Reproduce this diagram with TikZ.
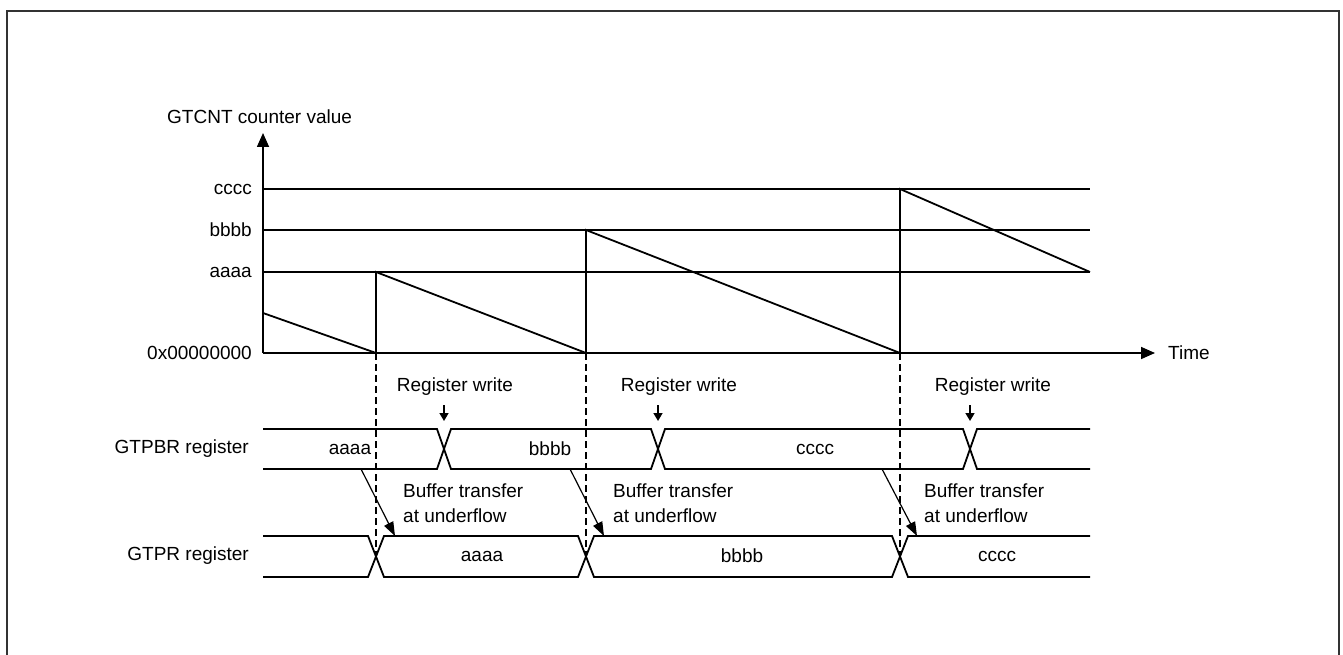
\documentclass[tikz,border=0pt]{standalone}
\usepackage{fontspec}
\setmainfont{Liberation Sans}
\usetikzlibrary{arrows.meta, positioning}

\begin{document}
\begin{tikzpicture}[
    x=1pt, y=-1pt,
    font=\fontsize{19}{25}\selectfont,
    >={Triangle[length=14pt,width=12pt]},
    txt/.style={inner sep=0pt},
    sig/.style={line width=1.8pt, line join=miter},
    axis/.style={->, line width=1.6pt},
    guide/.style={dashed, line width=1.5pt, dash pattern=on 7pt off 4pt},
    xfer/.style={-{Triangle[length=14pt,width=10pt]}, line width=1.2pt},
    wr/.style={-{Triangle[length=8pt,width=9pt]}, line width=1.6pt},
]
    \useasboundingbox (0,0) rectangle (1343,655);
    \clip (0,0) rectangle (1343,655);
    % frame
    \draw[line width=1.6pt, black!80] (7,11) rectangle (1339,700);

    % axes
    \coordinate (org) at (263,353);
    \coordinate (ytip) at (263,133);
    \coordinate (xtip) at (1155,353);
    \draw[axis] (org) -- (ytip);
    \draw[axis] (org) -- (xtip);
    \node[txt, anchor=west] (ylab) at (167,117) {GTCNT counter value};
    \node[txt, anchor=west] (tlab) at (1168,353) {Time};

    % levels
    \foreach \val/\y in {cccc/189, bbbb/230, aaaa/272} {
        \node[txt, anchor=east] (lv\val) at (252,\y) {\val};
        \draw[sig] (263,\y) -- (1090,\y);
    }
    \node[txt, anchor=east] (lvzero) at (252,353) {0x00000000};

    % counter
    \draw[sig] (263,313) -- (376,353) -- (376,272) -- (586,353) -- (586,230)
        -- (900,353) -- (900,189) -- (1090,272);

    % underflow marks
    \foreach \x in {376,586,900}
        \draw[guide] (\x,353) -- (\x,556);

    % GTPBR bus
    \node[txt, anchor=east] (pbr) at (249,449) {GTPBR register};
    \draw[sig] (263,429) -- (437,429) -- (451,469) -- (651,469) -- (665,429)
        -- (963,429) -- (977,469) -- (1090,469);
    \draw[sig] (263,469) -- (437,469) -- (451,429) -- (651,429) -- (665,469)
        -- (963,469) -- (977,429) -- (1090,429);
    \node[txt] (pbra) at (350,449) {aaaa};
    \node[txt] (pbrb) at (550,449) {bbbb};
    \node[txt] (pbrc) at (815,449) {cccc};

    % GTPR bus
    \node[txt, anchor=east] (pr) at (249,556) {GTPR register};
    \draw[sig] (263,536) -- (368,536) -- (384,577) -- (578,577) -- (594,536)
        -- (892,536) -- (908,577) -- (1090,577);
    \draw[sig] (263,577) -- (368,577) -- (384,536) -- (578,536) -- (594,577)
        -- (892,577) -- (908,536) -- (1090,536);
    \node[txt] (pra) at (482,556) {aaaa};
    \node[txt] (prb) at (742,556) {bbbb};
    \node[txt] (prc) at (997,556) {cccc};

    % register writes
    \foreach \i/\lx/\ax in {1/455/444, 2/679/658, 3/993/970} {
        \node[txt] (rw\i) at (\lx,387) {Register write};
        \coordinate (rws\i) at (\ax,405);
        \coordinate (rwe\i) at (\ax,421);
        \draw[wr] (rws\i) -- (rwe\i);
    }

    % buffer transfers
    \foreach \i/\lx/\sx/\ex in {1/403/361/395, 2/613/570/604, 3/924/882/917} {
        \node[txt, anchor=west, align=left] (bt\i) at (\lx,503) {Buffer transfer\\at underflow};
        \coordinate (bts\i) at (\sx,469);
        \coordinate (bte\i) at (\ex,536);
        \draw[xfer] (bts\i) -- (bte\i);
    }
\end{tikzpicture}
\end{document}
